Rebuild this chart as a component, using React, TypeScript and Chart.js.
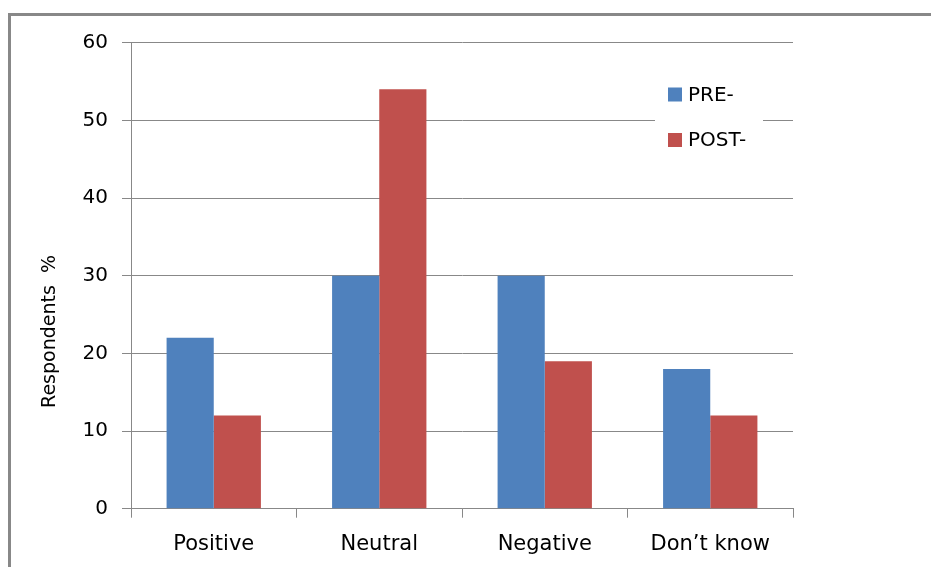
import React, { useEffect, useRef } from "react";
import { Chart, registerables } from "chart.js";

Chart.register(...registerables);

const categories = ["Positive", "Neutral", "Negative", "Don\u2019t know"];
const preValues = [22, 30, 30, 18];
const postValues = [12, 54, 19, 12];
const seriesLabels = ["PRE-", "POST-"];
const seriesColors = ["#4F81BD", "#C0504D"];
const yTitle = "Respondents  %";

const FONT = "'DejaVu Sans', sans-serif";

const legendPlugin = {
  id: "boxLegend",
  afterDatasetsDraw(chart: any) {
    const ctx = chart.ctx;
    ctx.save();
    ctx.fillStyle = "#ffffff";
    ctx.fillRect(655, 72, 108, 92);
    ctx.font = `20px ${FONT}`;
    ctx.textBaseline = "middle";
    ctx.textAlign = "left";
    chart.data.datasets.forEach((ds: any, i: number) => {
      const cy = 94.5 + i * 45.5;
      ctx.fillStyle = ds.backgroundColor;
      ctx.fillRect(668, cy - 7, 14, 14);
      ctx.fillStyle = "#000000";
      ctx.fillText(ds.label, 688, cy + 1);
    });
    ctx.restore();
  },
};

const titlePlugin = {
  id: "yTitle",
  afterDraw(chart: any) {
    const ctx = chart.ctx;
    ctx.save();
    ctx.translate(50, 331.5);
    ctx.rotate(-Math.PI / 2);
    ctx.font = `19px ${FONT}`;
    ctx.fillStyle = "#000000";
    ctx.textAlign = "center";
    ctx.textBaseline = "middle";
    ctx.fillText(yTitle, 0, 0);
    ctx.restore();
  },
};

export default function App() {
  const canvasRef = useRef<HTMLCanvasElement | null>(null);

  useEffect(() => {
    if (!canvasRef.current) return;
    const chart = new Chart(canvasRef.current, {
      type: "bar",
      data: {
        labels: categories,
        datasets: [
          { label: seriesLabels[0], data: preValues, backgroundColor: seriesColors[0] },
          { label: seriesLabels[1], data: postValues, backgroundColor: seriesColors[1] },
        ],
      },
      plugins: [legendPlugin, titlePlugin],
      options: {
        animation: false,
        responsive: true,
        maintainAspectRatio: false,
        layout: { padding: { left: 0, top: 42.7, right: 138, bottom: 0 } },
        datasets: {
          bar: { categoryPercentage: 0.57, barPercentage: 1.0, borderWidth: 0 },
        },
        plugins: {
          legend: { display: false },
          tooltip: { enabled: false },
        },
        scales: {
          x: {
            grid: {
              offset: true,
              drawOnChartArea: false,
              drawTicks: true,
              tickLength: 9,
              color: "#888888",
              lineWidth: 1,
            },
            border: { display: true, color: "#888888", width: 1 },
            ticks: {
              color: "#000000",
              font: { family: FONT, size: 21 },
              padding: 14,
              maxRotation: 0,
              autoSkip: false,
            },
            afterFit: (scale: any) => {
              scale.height = 567 - 508.7;
            },
          },
          y: {
            min: 0,
            max: 60,
            grid: {
              drawTicks: true,
              tickLength: 9,
              color: "#888888",
              lineWidth: 1,
            },
            border: { display: true, color: "#888888", width: 1 },
            ticks: {
              stepSize: 10,
              color: "#000000",
              font: { family: FONT, size: 20 },
              padding: 14,
            },
            title: { display: false },
            afterFit: (scale: any) => {
              scale.width = 131;
            },
          },
        },
      },
    });
    return () => chart.destroy();
  }, []);

  return (
    <div style={{ position: "fixed", left: 0, top: 0, width: 931, height: 567, background: "#ffffff" }}>
      <div
        style={{
          position: "absolute",
          left: 8,
          top: 13,
          right: 0,
          bottom: 0,
          borderLeft: "3px solid #888888",
          borderTop: "3px solid #888888",
        }}
      />
      <div style={{ position: "absolute", left: 0, top: 0, width: 931, height: 567 }}>
        <canvas ref={canvasRef} />
      </div>
    </div>
  );
}
